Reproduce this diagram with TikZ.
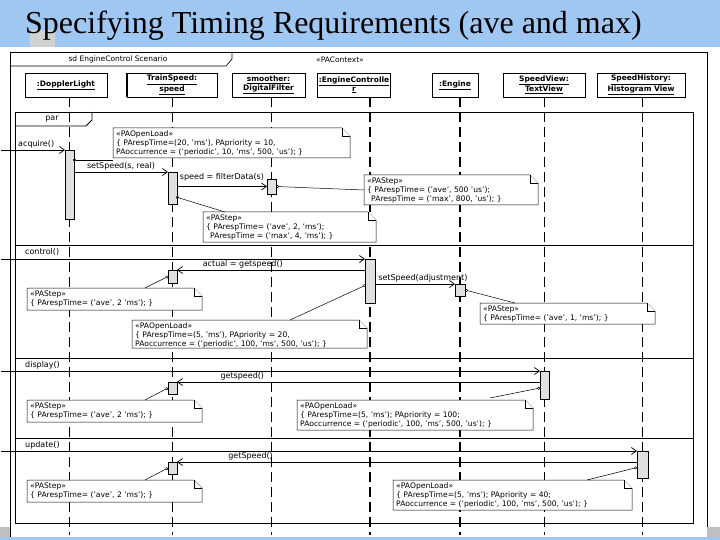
\documentclass[tikz,border=0pt]{standalone}
\usepackage{fontspec}
\setmainfont{DejaVu Sans}
\newfontfamily\titlefont{Liberation Serif}
\usetikzlibrary{arrows.meta,calc}
\definecolor{bandblue}{RGB}{160,198,242}
\definecolor{actgray}{RGB}{224,224,224}
\newcommand\umlnote[6]{%
  \node[notebox, minimum width=#4pt, minimum height=#5pt, anchor=north west] (#1) at (#2,#3) {};
  \draw[notefr] (#1.north west) -- ([xshift=-8pt]#1.north east) -- ([yshift=-8pt]#1.north east) -- (#1.south east) -- (#1.south west) -- cycle;
  \draw[notefr] ([xshift=-8pt]#1.north east) -- ([xshift=-8pt,yshift=-8pt]#1.north east) -- ([yshift=-8pt]#1.north east);
  \node[notetext, anchor=north west] (#1-t) at ([xshift=1pt,yshift=-1pt]#1.north west) {#6};
}
\begin{document}
\begin{tikzpicture}[x=1pt,y=-1pt,
  head/.style={draw, line width=0.8pt, fill=white, minimum height=24pt, inner sep=1pt, align=center, font=\fontsize{7.5}{8.5}\selectfont\bfseries},
  act/.style={draw, line width=0.9pt, fill=actgray, minimum width=9pt, inner sep=0pt, outer sep=0pt, anchor=north},
  lifeline/.style={line width=1.8pt, dash pattern=on 10pt off 5pt},
  msg/.style={line width=0.7pt, -{Straight Barb[length=5pt,width=7pt]}},
  lbl/.style={font=\fontsize{8}{9}\selectfont, inner sep=1pt},
  notebox/.style={inner sep=0pt, outer sep=0pt},
  notefr/.style={draw, line width=0.5pt, fill=white},
  notetext/.style={font=\fontsize{7.6}{8.8}\selectfont, align=left, inner sep=2pt},
  notelink/.style={line width=0.5pt, -{Circle[open,length=3pt]}}]
\useasboundingbox (0,0) rectangle (720,540);
\fill[white] (0,0) rectangle (720,540);
% slide decoration
\fill[bandblue] (0,0) rectangle (720,47);
\fill[bandblue] (0,537) rectangle (720,540);
\fill[black!18] (30,30) rectangle (55,47);
\fill[black!25] (0,527) rectangle (10,537);
\fill[black!25] (707,527) rectangle (720,537);
\node[anchor=base west, inner sep=0pt, font=\titlefont\fontsize{32}{33}\selectfont] (title) at (25,34) {Specifying Timing Requirements (ave and max)};
% outer frame
\draw[line width=0.6pt] (10,537) -- (10,52) -- (707,52) -- (707,527);
\draw[line width=0.6pt] (10,66) -- (226,66) -- (232,59) -- (232,52);
\node[lbl, font=\fontsize{7.5}{8}\selectfont] (sdname) at (118,59.5) {sd EngineControl Scenario};
\node[lbl, font=\fontsize{7.5}{8}\selectfont] (ctx) at (340,59.5) {«PAContext»};
% heads
\node[head, minimum width=82pt] (hDL) at (66,85) {\underline{:DopplerLight}};
\node[head, minimum width=90pt] (hTS) at (172,85) {\underline{TrainSpeed:}\\\underline{speed}};
\draw[line width=2pt] (hTS.north west) -- (hTS.south west);
\node[head, minimum width=73pt] (hSM) at (268.5,85) {\underline{smoother:}\\\underline{DigitalFilter}};
\node[head, minimum width=68pt] (hEC) at (354,85) {\underline{:EngineControlle}\\\underline{r}};
\node[head, minimum width=46pt] (hEN) at (455,85) {\underline{:Engine}};
\node[head, minimum width=82pt] (hSV) at (544,85) {\underline{SpeedView:}\\\underline{TextView}};
\node[head, minimum width=88pt] (hHV) at (641,85) {\underline{SpeedHistory:}\\\underline{Histogram View}};
% lifelines
\coordinate (bot) at (0,535);
\coordinate (xDL) at (69.5,0);
\coordinate (xTS) at (172.5,0);
\coordinate (xSM) at (271.5,0);
\coordinate (xEC) at (370,0);
\coordinate (xEN) at (460,0);
\coordinate (xSV) at (544.5,0);
\coordinate (xHV) at (642.5,0);
\foreach \h/\x in {hDL/xDL,hTS/xTS,hSM/xSM,hEC/xEC,hEN/xEN,hSV/xSV,hHV/xHV}
  \draw[lifeline] (\x |- \h.south) -- (\x |- bot);
% par frame
\node[draw, line width=1pt, minimum width=678pt, minimum height=411pt, anchor=north west, inner sep=0pt] (par) at (15,112) {};
\draw[line width=0.8pt] (15,126) -- (86,126) -- (92,120) -- (92,112);
\node[lbl] (parlbl) at (52,119) {par};
\coordinate (s1) at (0,245);
\coordinate (s2) at (0,358);
\coordinate (s3) at (0,438);
\foreach \s in {s1,s2,s3}
  \draw[line width=0.8pt] (par.west |- \s) -- (par.east |- \s);
\node[lbl, anchor=west] (lc) at (24,252) {control()};
\node[lbl, anchor=west] (ld) at (24,365) {display()};
\node[lbl, anchor=west] (lu) at (24,445) {update()};
% activations
\node[act, minimum height=69pt] (dl1) at (69.5,150) {};
\node[act, minimum height=32pt] (ts1) at (172.5,172) {};
\node[act, minimum height=15pt] (sm1) at (271.5,179) {};
\node[act, minimum height=13pt] (ts2) at (172.5,270) {};
\node[act, minimum height=44pt, minimum width=10pt] (ec2) at (370,259) {};
\node[act, minimum height=12pt, minimum width=10pt] (en2) at (460,284) {};
\node[act, minimum height=12pt] (ts3) at (172.5,382) {};
\node[act, minimum height=28pt] (sv3) at (544.5,371) {};
\node[act, minimum height=12pt] (ts4) at (172.5,462) {};
\node[act, minimum height=27pt, minimum width=11pt] (hv4) at (642.5,451) {};
% gates
\coordinate (gA) at (1,150);
\coordinate (gC) at (1,259);
\coordinate (gD) at (1,371);
\coordinate (gU) at (1,451);
% messages
\draw[msg] (gA) -- (dl1.north west);
\node[lbl, anchor=south west] (la) at (17,149) {acquire()};
\draw[msg] (dl1.east |- ts1.north) -- (ts1.north west) node[lbl, midway, above] (m1) {setSpeed(s, real)};
\draw[msg] (ts1.east |- sm1.west) -- (sm1.west) node[lbl, midway, above, yshift=4pt] (m2) {speed = filterData(s)};
\draw[msg] (gC) -- (ec2.north west);
\draw[msg] (ec2.west |- ts2.north) -- (ts2.north east) node[lbl, pos=0.65, above] (m3) {actual = getspeed()};
\draw[msg] (ec2.east |- en2.north) -- (en2.north west) node[lbl, pos=0, anchor=south west, xshift=2pt] (m4) {setSpeed(adjustment)};
\draw[msg] (gD) -- (sv3.north west);
\draw[msg] (sv3.west |- ts3.north) -- (ts3.north east) node[lbl, pos=0.82, above] (m5) {getspeed()};
\draw[msg] (gU) -- (hv4.north west);
\draw[msg] (hv4.west |- ts4.north) -- (ts4.north east) node[lbl, pos=0.84, above] (m6) {getSpeed()};
% notes
\umlnote{N1}{113}{128}{237}{30}{«PAOpenLoad»\\\{ PArespTime=(20, 'ms'), PApriority = 10,\\PAoccurrence = ('periodic', 10, 'ms', 500, 'us'); \}}
\umlnote{N2}{364}{175}{174}{30}{«PAStep»\\\{ PArespTime= ('ave', 500 'us');\\\hspace*{4pt}PArespTime = ('max', 800, 'us'); \}}
\umlnote{N3}{203}{212}{173}{30}{«PAStep»\\\{ PArespTime= ('ave', 2, 'ms');\\\hspace*{4pt}PArespTime = ('max', 4, 'ms'); \}}
\umlnote{N4}{27}{288}{175}{22}{«PAStep»\\\{ PArespTime= ('ave', 2 'ms'); \}}
\umlnote{N5}{480}{303}{175}{21}{«PAStep»\\\{ PArespTime= ('ave', 1, 'ms'); \}}
\umlnote{N6}{132}{320}{235}{28}{«PAOpenLoad»\\\{ PArespTime=(5, 'ms'), PApriority = 20,\\PAoccurrence = ('periodic', 100, 'ms', 500, 'us'); \}}
\umlnote{N7}{27}{400}{175}{22}{«PAStep»\\\{ PArespTime= ('ave', 2 'ms'); \}}
\umlnote{N8}{297}{400}{236}{30}{«PAOpenLoad»\\\{ PArespTime=(5, 'ms'); PApriority = 100;\\PAoccurrence = ('periodic', 100, 'ms', 500, 'us'); \}}
\umlnote{N9}{27}{480}{175}{22}{«PAStep»\\\{ PArespTime= ('ave', 2 'ms'); \}}
\umlnote{N10}{393}{480}{239}{30}{«PAOpenLoad»\\\{ PArespTime=(5, 'ms'); PApriority = 40;\\PAoccurrence = ('periodic', 100, 'ms', 500, 'us'); \}}
% note links
\draw[notelink] ([yshift=-2pt]N1.south west) -- ($(dl1.north east)+(-1,10)$);
\draw[notelink] (N2.west) -- (sm1.east);
\draw[notelink] ($(N3.north west)+(22,0)$) -- ($(ts1.south east)+(-1,-7)$);
\draw[notelink] ($(N4.north west)+(118,0)$) -- (ts2.west);
\draw[notelink] ($(N5.north west)+(35,0)$) -- (en2.east);
\draw[notelink] ($(N6.north west)+(158,0)$) -- ($(ec2.west)+(1,4)$);
\draw[notelink] ($(N7.north west)+(118,0)$) -- (ts3.west);
\draw[notelink] ($(N8.north west)+(193,-2)$) -- ($(sv3.west)+(0,3)$);
\draw[notelink] ($(N9.north west)+(118,0)$) -- (ts4.west);
\draw[notelink] ($(N10.north west)+(194,0)$) -- ($(hv4.west)+(0,3)$);
\end{tikzpicture}
\end{document}
